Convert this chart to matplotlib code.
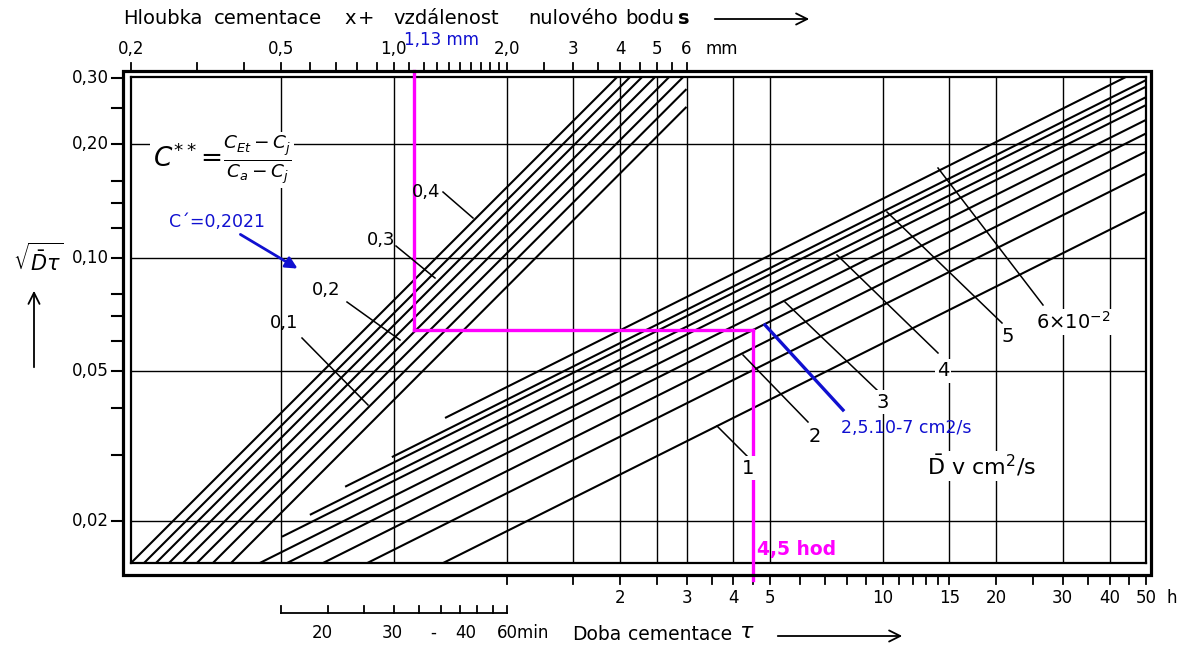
import matplotlib
matplotlib.use("Agg")
import matplotlib.pyplot as plt
from matplotlib.transforms import blended_transform_factory as blend
from matplotlib.patches import Rectangle, FancyArrowPatch

plt.rcParams['font.family'] = ['DejaVu Sans']
plt.rcParams['mathtext.fontset'] = 'dejavusans'

W, H = 1190, 653

# ---------------- data ----------------
# vertical axis  sqrt(D*tau)
Y_TICKS = [0.30, 0.25, 0.20, 0.16, 0.14, 0.12, 0.10, 0.08, 0.07, 0.06, 0.05, 0.04, 0.03, 0.02]
Y_LABEL_VALUES = [0.30, 0.20, 0.10, 0.05, 0.02]
Y_LABEL_TEXT = ["0,30", "0,20", "0,10", "0,05", "0,02"]
Y_GRID = [0.20, 0.10, 0.05, 0.02]

# bottom axis: cementation time (hours)
H_TICKS = [1, 1.5, 2, 2.5, 3, 3.5, 4, 4.5, 5, 6, 7, 8, 9, 10, 11, 12, 13, 14, 15,
           20, 25, 30, 35, 40, 45, 50]
H_LABEL_VALUES = [2, 3, 4, 5, 10, 15, 20, 30, 40, 50]
H_LABEL_TEXT = ["2", "3", "4", "5", "10", "15", "20", "30", "40", "50"]
H_GRID = [0.25, 0.5, 1, 1.5, 2, 2.5, 3, 4, 5, 10, 15, 20, 30, 40]

# minute scale (below)
MIN_TICKS = [15, 20, 25, 30, 35, 40, 45, 50, 55, 60]
MIN_LABEL_TEXT = ["20", "30", "-", "40", "60min"]

# top axis: depth x + s (mm)
MM_TICKS = [0.2, 0.3, 0.4, 0.5, 0.6, 0.7, 0.8, 0.9, 1.0, 1.1, 1.2, 1.3, 1.4, 1.5,
            1.6, 1.7, 1.8, 1.9, 2.0, 2.5, 3, 3.5, 4, 4.5, 5, 5.5, 6]
MM_LABEL_VALUES = [0.2, 0.5, 1.0, 2.0, 3, 4, 5, 6]
MM_LABEL_TEXT = ["0,2", "0,5", "1,0", "2,0", "3", "4", "5", "6"]
MM_PER_HOUR = 2.0

# left bundle: lines of constant C** (start / end points, hours and sqrt(D tau))
LEFT_H0 = [0.100, 0.1083, 0.1165, 0.1262, 0.1375, 0.1497, 0.1651, 0.1845]
LEFT_Y0 = [0.0155, 0.0155, 0.0155, 0.0155, 0.0155, 0.0155, 0.0155, 0.0155]
LEFT_H1 = [1.962, 2.124, 2.286, 2.475, 2.698, 2.94, 3.0, 3.0]
LEFT_Y1 = [0.302, 0.302, 0.302, 0.302, 0.302, 0.302, 0.2805, 0.2516]

# right bundle: lines of constant diffusion coefficient D
RIGHT_H0 = [0.684, 0.494, 0.371, 0.299, 0.252, 0.220, 0.260, 0.324, 0.425, 0.676]
RIGHT_Y0 = [0.0376, 0.0296, 0.0247, 0.0208, 0.0182, 0.0155, 0.0155, 0.0155, 0.0155, 0.0155]
RIGHT_H1 = [44.2, 50, 50, 50, 50, 50, 50, 50, 50, 50]
RIGHT_Y1 = [0.302, 0.2963, 0.2846, 0.267, 0.2544, 0.2324, 0.2139, 0.1915, 0.1674, 0.1327]

# worked example
DEPTH_MM = 1.13
TIME_H = 4.5
SQRT_DT = 0.0644

# ---------------- figure ----------------
fig = plt.figure(figsize=(W / 100, H / 100), dpi=100)
fig.patch.set_facecolor('white')
ax = fig.add_axes([131 / W, 1 - 563 / H, 1015 / W, 486 / H])
ax.set_xscale('log')
ax.set_yscale('log')
ax.set_xlim(0.1, 50)
ax.set_ylim(0.0155, 0.302)
ax.set_xticks([])
ax.set_yticks([])
ax.minorticks_off()
ax.tick_params(which='both', length=0, labelbottom=False, labelleft=False)
for s in ax.spines.values():
    s.set_linewidth(1.6)
    s.set_zorder(6)


def fx(x):
    return x / W


def fy(y):
    return 1 - y / H


FT = fig.transFigure
tr_xfig = blend(FT, ax.transData)   # x in figure, y in data
tr_yfig = blend(ax.transData, FT)   # x in data, y in figure
FS = 12

# outer frame
fig.add_artist(Rectangle((fx(123), fy(575)), fx(1151) - fx(123), fy(71) - fy(575),
                         transform=FT, fill=False, lw=2.3, ec='black', zorder=6))

# grid
for v in Y_GRID:
    ax.axhline(v, color='black', lw=1.0, zorder=1)
for h in H_GRID:
    ax.axvline(h, color='black', lw=1.0, zorder=1)

# bundles
for h0, y0, h1, y1 in zip(LEFT_H0, LEFT_Y0, LEFT_H1, LEFT_Y1):
    ax.plot([h0, h1], [y0, y1], color='black', lw=1.5, zorder=2, solid_capstyle='butt')
for h0, y0, h1, y1 in zip(RIGHT_H0, RIGHT_Y0, RIGHT_H1, RIGHT_Y1):
    ax.plot([h0, h1], [y0, y1], color='black', lw=1.5, zorder=2, solid_capstyle='butt')

# y ticks + labels
for v in Y_TICKS:
    ax.plot([fx(112), fx(123)], [v, v], transform=tr_xfig, color='black', lw=1.5, clip_on=False)
for v, t in zip(Y_LABEL_VALUES, Y_LABEL_TEXT):
    ax.text(fx(109), v, t, transform=tr_xfig, ha='right', va='center', fontsize=FS)

# top ticks + labels
for m in MM_TICKS:
    ax.plot([m / MM_PER_HOUR] * 2, [fy(63), fy(71)], transform=tr_yfig, color='black', lw=1.3,
            clip_on=False)
for m, t in zip(MM_LABEL_VALUES, MM_LABEL_TEXT):
    ax.text(m / MM_PER_HOUR, fy(49), t, transform=tr_yfig, ha='center', va='center', fontsize=FS)
fig.text(fx(722), fy(49), "mm", ha='center', va='center', fontsize=FS)

# bottom ticks + labels
for h in H_TICKS:
    ax.plot([h, h], [fy(575), fy(584)], transform=tr_yfig, color='black', lw=1.3, clip_on=False)
for h, t in zip(H_LABEL_VALUES, H_LABEL_TEXT):
    ax.text(h, fy(598), t, transform=tr_yfig, ha='center', va='center', fontsize=FS)
fig.text(fx(1172), fy(598), "h", ha='center', va='center', fontsize=FS)

# minute scale
mins_h = [m / 60 for m in MIN_TICKS]
ax.plot([mins_h[0], mins_h[-1]], [fy(613), fy(613)], transform=tr_yfig, color='black', lw=1.3,
        clip_on=False)
for h in mins_h:
    ax.plot([h, h], [fy(613), fy(606)], transform=tr_yfig, color='black', lw=1.3, clip_on=False)
for t, (px, ha) in zip(MIN_LABEL_TEXT, [(322, 'center'), (392, 'center'), (433, 'center'),
                                        (466, 'center'), (497, 'left')]):
    fig.text(fx(px), fy(633), t, ha=ha, va='center', fontsize=FS)

# axis titles (word by word, the lettering is widely spaced)
for t, px in [("Hloubka", 163), ("cementace", 268), ("x", 350), ("+", 366),
              ("vzdálenost", 446), ("nulového", 573), ("bodu", 650)]:
    fig.text(fx(px), fy(19), t, fontsize=14, ha='center', va='center')
fig.text(fx(684), fy(19), "s", fontsize=14, fontweight='bold', ha='center', va='center')
fig.add_artist(FancyArrowPatch((fx(712), fy(19)), (fx(812), fy(19)), transform=FT,
                               arrowstyle='->,head_length=8,head_width=4', lw=1.3, color='black'))
fig.text(fx(597), fy(634), "Doba", fontsize=13.5, ha='center', va='center')
fig.text(fx(680), fy(634), "cementace", fontsize=13.5, ha='center', va='center')
fig.text(fx(747), fy(632), r"$\tau$", fontsize=16, ha='center', va='center')
fig.add_artist(FancyArrowPatch((fx(775), fy(636)), (fx(905), fy(636)), transform=FT,
                               arrowstyle='->,head_length=8,head_width=4', lw=1.3, color='black'))
fig.text(fx(38), fy(258), r"$\sqrt{\bar{D}\tau}$", fontsize=15, ha='center', va='center')
fig.add_artist(FancyArrowPatch((fx(34), fy(370)), (fx(34), fy(288)), transform=FT,
                               arrowstyle='->,head_length=8,head_width=4', lw=1.3, color='black'))

bb = dict(facecolor='white', edgecolor='none', pad=1.5)

# formula
fig.text(fx(222), fy(160), r"$C^{**}\!=\!\frac{C_{Et}-C_j}{C_a-C_j}$", fontsize=19,
         ha='center', va='center', bbox=bb, zorder=5)

# C** labels with leaders
for t, (tx, ty), (x0, y0, x1, y1) in [
        ("0,1", (284, 323), (302, 338, 368, 405)),
        ("0,2", (326, 290), (347, 302, 400, 340)),
        ("0,3", (381, 240), (396, 246, 435, 278)),
        ("0,4", (426, 192), (443, 192, 473, 218))]:
    fig.text(fx(tx), fy(ty), t, fontsize=13, ha='center', va='center')
    fig.add_artist(plt.Line2D([fx(x0), fx(x1)], [fy(y0), fy(y1)], transform=FT, color='black',
                              lw=1.1))

# D labels with leaders
for t, (tx, ty), (x0, y0, x1, y1) in [
        ("1", (748, 468), (717, 426, 747, 456)),
        ("2", (815, 437), (743, 355, 808, 422)),
        ("3", (883, 402), (785, 302, 877, 390)),
        ("4", (943, 371), (837, 255, 938, 353)),
        ("5", (1008, 337), (887, 212, 1002, 323)),
        (r"$6{\times}10^{-2}$", (1073, 322), (938, 168, 1043, 305))]:
    fig.text(fx(tx), fy(ty), t, fontsize=14, ha='center', va='center', bbox=bb, zorder=5)
    fig.add_artist(plt.Line2D([fx(x0), fx(x1)], [fy(y0), fy(y1)], transform=FT, color='black',
                              lw=1.1))

fig.text(fx(982), fy(466), r"$\bar{\mathrm{D}}$ v cm$^2$/s", fontsize=16, ha='center',
         va='center', bbox=bb, zorder=5)

# worked example (magenta path)
MAG = '#ff00ff'
hx = DEPTH_MM / MM_PER_HOUR
ax.plot([hx, hx], [0.313, SQRT_DT], color=MAG, lw=2.4, zorder=7, clip_on=False)
ax.plot([hx, TIME_H], [SQRT_DT, SQRT_DT], color=MAG, lw=2.4, zorder=7)
ax.plot([TIME_H, TIME_H], [SQRT_DT, 0.0140], color=MAG, lw=2.4, zorder=7, clip_on=False)
fig.text(fx(757), fy(549), "4,5 hod", color=MAG, fontsize=13.5, fontweight='bold', ha='left',
         va='center', zorder=8)

BLUE = '#1010d0'
fig.text(fx(442), fy(40), "1,13 mm", color=BLUE, fontsize=12, ha='center', va='center')
fig.text(fx(217), fy(222), "C´=0,2021", color=BLUE, fontsize=12.5, ha='center', va='center')
fig.add_artist(FancyArrowPatch((fx(238), fy(233)), (fx(300), fy(270)), transform=FT,
                               arrowstyle='-|>,head_length=7,head_width=3.5', lw=2, color=BLUE))
fig.add_artist(plt.Line2D([fx(765), fx(843)], [fy(325), fy(410)], transform=FT, color=BLUE,
                          lw=2.4, zorder=7))
fig.text(fx(906), fy(428), "2,5.10-7 cm2/s", color=BLUE, fontsize=12.5, ha='center', va='center')

fig.savefig("out.png", dpi=100, facecolor='white')
